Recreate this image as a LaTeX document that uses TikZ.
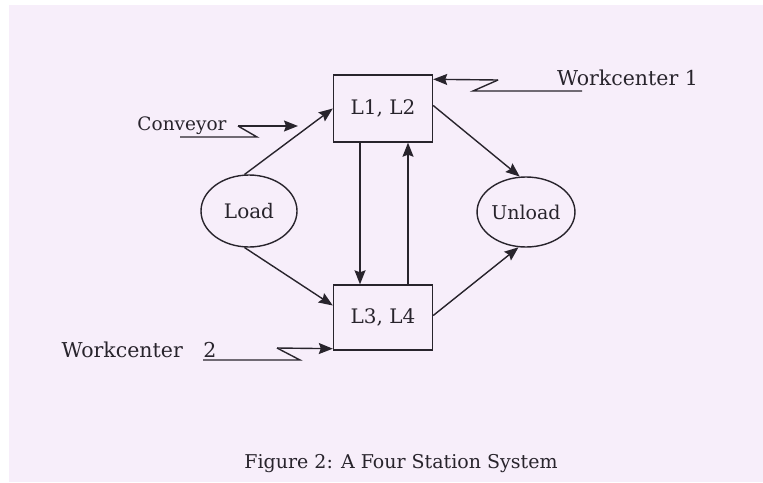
\documentclass[tikz,border=0pt]{standalone}
\usepackage{fontspec}
\setmainfont{DejaVu Serif}
\usetikzlibrary{shapes.geometric,arrows.meta}
\definecolor{bgpink}{RGB}{247,238,250}
\definecolor{ink}{RGB}{40,36,44}
\tikzset{
  conn/.style={draw=ink, line width=1.4pt, -{Stealth[length=14pt,width=11pt,inset=2pt]}},
  plainline/.style={draw=ink, line width=1.4pt},
  stationbox/.style={draw=ink, line width=1.4pt, rectangle, minimum width=99pt, minimum height=67pt, inner sep=0pt, text=ink, font=\fontsize{20}{23}\selectfont},
  endpoint/.style={draw=ink, line width=1.4pt, ellipse, minimum width=96pt, minimum height=72pt, inner sep=0pt, text=ink, font=\fontsize{20}{23}\selectfont},
  lbl/.style={text=ink, inner sep=0pt, font=\fontsize{20.5}{23}\selectfont}
}
\begin{document}
\begin{tikzpicture}[x=1pt,y=-1pt]
\useasboundingbox (0,0) rectangle (763,482);
\fill[white] (0,0) rectangle (763,482);
\fill[bgpink] (9,5) rectangle (763,482);

\node[stationbox] (L12) at (383,108.5) {L1, L2};
\node[stationbox, minimum height=65pt] (L34) at (383,317.5) {L3, L4};
\node[endpoint] (Load) at (249,211) {Load};
\node[endpoint, minimum width=97pt, minimum height=70pt, font=\fontsize{19}{22}\selectfont] (Unload) at (526,212) {Unload};

\draw[conn] (Load.97) -- (L12.west);
\draw[conn] (Load.263) -- ([yshift=12pt]L34.west);
\draw[conn] ([yshift=3pt]L12.east) -- (Unload.100);
\draw[conn] ([yshift=2pt]L34.east) -- (Unload.258);
\draw[conn] ([xshift=-23pt]L12.south) -- ([xshift=-23pt]L34.north);
\draw[conn] ([xshift=25pt]L34.north) -- ([xshift=25pt]L12.south);

% Conveyor
\node[lbl, font=\fontsize{18.5}{21}\selectfont] (conv) at (182,126) {Conveyor};
\coordinate (c0) at (180,137);
\coordinate (c1) at (257,137);
\coordinate (c2) at (238,126);
\coordinate (c3) at (298,126);
\draw[plainline] (c0) -- (c1) -- (c2);
\draw[conn] (c2) -- (c3);

% Workcenter 1
\node[lbl] (wc1) at (627.5,78) {Workcenter 1};
\coordinate (w0) at (582,91);
\coordinate (w1) at (473,91);
\coordinate (w2) at (498,80);
\draw[plainline] (w0) -- (w1) -- (w2);
\draw[conn] (w2) -- ([yshift=-5pt]L12.north east);

% Workcenter 2
\node[lbl] (wc2) at (139,350) {Workcenter\hspace{1em}2};
\coordinate (v0) at (203,360);
\coordinate (v1) at (300,360);
\coordinate (v2) at (277,348);
\draw[plainline] (v0) -- (v1) -- (v2);
\draw[conn] (v2) -- ([yshift=2pt]L34.south west);

% caption
\node[lbl, font=\fontsize{19}{22}\selectfont] (cap) at (401,464) {Figure 2: A Four Station System};
\end{tikzpicture}
\end{document}
